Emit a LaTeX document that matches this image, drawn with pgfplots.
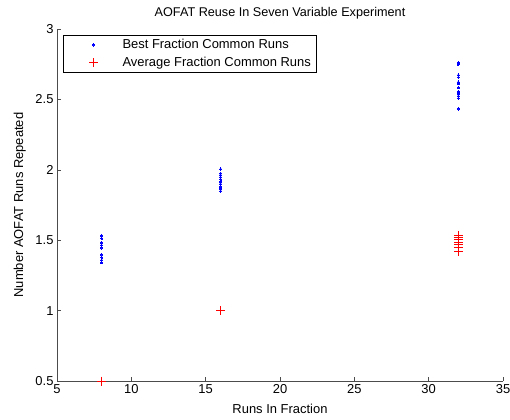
\documentclass[border=0pt]{standalone}
\usepackage{fontspec}
\setmainfont{Liberation Sans}
\usepackage{pgfplots}
\pgfplotsset{compat=1.18}
\pgfplotsset{myleg/.style={legend image code/.code={\path (0bp,0bp) -- (53bp,0bp); \draw[##1,draw=none] plot[only marks] coordinates {(26bp,0bp)};}}}
\begin{document}
\begin{tikzpicture}[x=1bp,y=1bp]
\path[use as bounding box] (0,0) rectangle (510,419);
\begin{axis}[
  at={(57bp,38bp)}, anchor=south west,
  scale only axis, width=446bp, height=352bp,
  xmin=5, xmax=35, ymin=0.5, ymax=3,
  clip=false,
  xtick={5,10,...,35}, ytick={0.5,1,1.5,2,2.5,3},
  axis x line*=bottom, axis y line*=left,
  tick align=inside, major tick length=4bp,
  axis line style={draw=black!70, line width=0.7bp},
  every tick/.style={draw=black!70, line width=0.6bp},
  font=\fontsize{13}{15}\selectfont,
  tick label style={font=\fontsize{13}{15}\selectfont},
  /pgf/number format/assume math mode=true,
  yticklabel style={/pgf/number format/fixed},
  every axis title shift=0pt,
  title={AOFAT Reuse In Seven Variable Experiment},
  title style={at={(0.5,1.0355)}, anchor=base, font=\fontsize{12.7}{15}\selectfont},
  xlabel={Runs In Fraction},
  xlabel style={at={(0.5,-0.0923)}, anchor=base},
  ylabel={Number AOFAT Runs Repeated},
  ylabel style={at={(-0.0762,0.5)}, anchor=base},
  legend style={at={(0.0135,0.983)}, anchor=north west, draw=black, line width=1bp,
    inner xsep=4bp, inner ysep=2bp, row sep=3bp,
    font=\fontsize{13}{15}\selectfont, cells={anchor=west}},
]
\addplot[draw=none, mark=*, mark size=1.1bp, color=blue, mark options={draw=blue, fill=blue, line width=0pt}, myleg] coordinates {
 (8,1.532) (8,1.513) (8,1.482) (8,1.464) (8,1.445) (8,1.395) (8,1.378) (8,1.359) (8,1.340)
 (16,2.005) (16,1.975) (16,1.963) (16,1.947) (16,1.932) (16,1.916) (16,1.899) (16,1.880) (16,1.864) (16,1.849)
 (32,2.760) (32,2.748) (32,2.673) (32,2.657) (32,2.623) (32,2.611) (32,2.583) (32,2.555) (32,2.545) (32,2.538) (32,2.524) (32,2.508) (32,2.432)
};
\addlegendentry{Best Fraction Common Runs}
\addplot[draw=none, mark=+, mark size=4.5bp, color=red, mark options={draw=red, line width=0.9bp}, myleg] coordinates {
 (8,0.5) (16,1.0)
 (32,1.535) (32,1.521) (32,1.506) (32,1.487) (32,1.471) (32,1.447) (32,1.421)
};
\addlegendentry{Average Fraction Common Runs}
\end{axis}
\end{tikzpicture}
\end{document}
